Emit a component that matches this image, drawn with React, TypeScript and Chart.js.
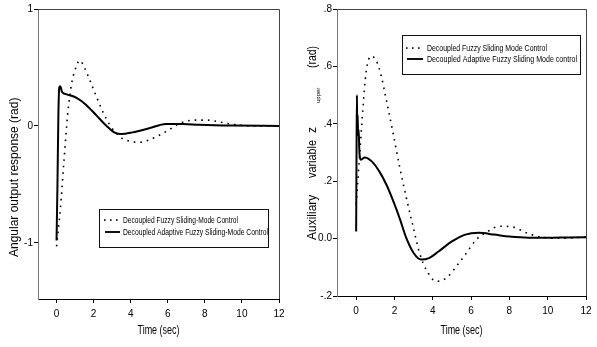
import { useEffect, useRef } from "react";
import { Chart, registerables } from "chart.js";

Chart.register(...registerables);

// ---------- data ----------
const xTickValues = [0, 2, 4, 6, 8, 10, 12];

const leftYTickValues = [1, 0, -1];
const leftYTickLabels = ["1", "0", "-1"];
const rightYTickValues = [0.8, 0.6, 0.4, 0.2, 0, -0.2];
const rightYTickLabels = [".8", ".6", ".4", ".2", "0.0", "-.2"];

const leftLegend = [
  "Decoupled Fuzzy Sliding-Mode Control",
  "Decoupled Adaptive Fuzzy Sliding-Mode Control",
];
const rightLegend = [
  "Decoupled Fuzzy Sliding Mode Control",
  "Decoupled Adaptive Fuzzy Sliding Mode control",
];

// Left panel: angular output response (rad)
const leftFuzzyT = [0, 0.2, 0.4, 0.6, 0.8, 1.0, 1.26, 1.53, 1.8, 2.15, 2.5, 2.87, 3.4, 3.95, 4.5, 5.0, 5.57, 6.1, 6.65, 7.37, 8.1, 8.8, 9.5, 10.6, 12];
const leftFuzzyY = [-1.03, -0.72, -0.3, 0.1, 0.35, 0.48, 0.56, 0.49, 0.39, 0.25, 0.12, 0.01, -0.09, -0.13, -0.14, -0.12, -0.077, -0.03, 0.023, 0.049, 0.05, 0.034, 0.014, 0, 0];
const leftAdaptT = [0, 0.05, 0.1, 0.15, 0.2, 0.3, 0.55, 1.08, 1.6, 2.15, 2.7, 3.14, 3.5, 4.1, 5.0, 5.9, 6.8, 7.7, 9.5, 12];
const leftAdaptY = [-0.98, -0.5, 0.1, 0.33, 0.34, 0.29, 0.27, 0.24, 0.18, 0.09, 0.0, -0.057, -0.07, -0.055, -0.02, 0.017, 0.017, 0.01, 0.003, 0];

// Right panel: auxiliary variable z_upper (rad)
const rightFuzzyT = [0, 0.17, 0.35, 0.52, 0.78, 1.05, 1.31, 1.57, 1.92, 2.27, 2.6, 2.97, 3.31, 3.66, 4.19, 4.71, 5.23, 5.76, 6.28, 6.8, 7.5, 8.2, 8.9, 9.6, 10.8, 12];
const rightFuzzyY = [0.12, 0.28, 0.45, 0.58, 0.636, 0.62, 0.566, 0.485, 0.37, 0.25, 0.148, 0.043, -0.05, -0.108, -0.149, -0.137, -0.097, -0.05, -0.003, 0.022, 0.043, 0.04, 0.02, 0.006, 0.001, 0.006];
const rightAdaptT = [0, 0.02, 0.04, 0.06, 0.08, 0.1, 0.13, 0.17, 0.25, 0.45, 0.8, 1.2, 1.6, 2.0, 2.3, 2.6, 3.0, 3.4, 3.8, 4.3, 5.0, 5.7, 6.4, 7.2, 8.0, 9.0, 10, 11, 12];
const rightAdaptY = [0.025, 0.3, 0.5, 0.37, 0.43, 0.36, 0.38, 0.3, 0.275, 0.283, 0.27, 0.235, 0.185, 0.12, 0.065, 0.005, -0.05, -0.073, -0.068, -0.045, -0.01, 0.014, 0.02, 0.014, 0.007, 0.003, 0.003, 0.004, 0.005];

// ---------- styling ----------
const NARROW = "'Liberation Sans Narrow', 'Arial Narrow', 'Liberation Sans', Arial, sans-serif";
const SANS = "'Liberation Sans', Arial, sans-serif";

const zip = (t: number[], y: number[]) => t.map((x, i) => ({ x, y: y[i] }));

type TitlePart = { text: string; x: number; y: number; size: number; maxW?: number };
type Deco = {
  xTitleY: number;
  yTitle: TitlePart[];
  legend: { x: number; y: number; w: number; h: number; rows: number[]; sx0: number; sx1: number; tx: number; tw: number[]; labels: string[] };
};

const decoPlugin = (c: Deco) => ({
  id: "deco",
  afterDraw(chart: any) {
    const ctx: CanvasRenderingContext2D = chart.ctx;
    const a = chart.chartArea;
    ctx.save();
    // frame: top & right edges
    ctx.strokeStyle = "#444";
    ctx.lineWidth = 1;
    ctx.beginPath();
    ctx.moveTo(a.left, Math.round(a.top) + 0.5);
    ctx.lineTo(Math.round(a.right) + 0.5, Math.round(a.top) + 0.5);
    ctx.lineTo(Math.round(a.right) + 0.5, a.bottom);
    ctx.stroke();

    // x title
    ctx.fillStyle = "#000";
    ctx.textBaseline = "middle";
    ctx.textAlign = "center";
    ctx.font = `12px ${NARROW}`;
    ctx.fillText("Time (sec)", (a.left + a.right) / 2, c.xTitleY, 42);

    // y title (rotated)
    for (const p of c.yTitle) {
      ctx.save();
      ctx.translate(p.x, p.y);
      ctx.rotate(-Math.PI / 2);
      ctx.textAlign = "left";
      ctx.textBaseline = "middle";
      ctx.font = `${p.size}px ${SANS}`;
      if (p.maxW) ctx.fillText(p.text, 0, 0, p.maxW);
      else ctx.fillText(p.text, 0, 0);
      ctx.restore();
    }

    // legend box
    const L = c.legend;
    ctx.strokeStyle = "#111";
    ctx.lineWidth = 1;
    ctx.strokeRect(L.x + 0.5, L.y + 0.5, L.w, L.h);
    // dotted sample
    ctx.fillStyle = "#000";
    for (let x = L.sx0; x <= L.sx1 - 1; x += 6) {
      ctx.fillRect(x, L.rows[0] - 0.75, 1.6, 1.6);
    }
    // solid sample
    ctx.beginPath();
    ctx.lineWidth = 2;
    ctx.moveTo(L.sx0 + 1, L.rows[1]);
    ctx.lineTo(L.sx1 + 2, L.rows[1]);
    ctx.stroke();
    ctx.font = `9.5px ${NARROW}`;
    ctx.textAlign = "left";
    ctx.textBaseline = "middle";
    ctx.fillText(L.labels[0], L.tx, L.rows[0], L.tw[0]);
    ctx.fillText(L.labels[1], L.tx, L.rows[1], L.tw[1]);
    ctx.restore();
  },
});

function makeChart(
  canvas: HTMLCanvasElement,
  o: {
    fuzzy: { x: number; y: number }[];
    adapt: { x: number; y: number }[];
    labels: string[];
    yMin: number;
    yMax: number;
    yTicks: number[];
    yLabels: string[];
    yWidth: number;
    xHeight: number;
    padRight: number;
    deco: Deco;
  }
) {
  return new Chart(canvas, {
    type: "line",
    data: {
      datasets: [
        {
          label: o.labels[0],
          data: o.fuzzy,
          borderColor: "#000",
          borderWidth: 1.6,
          borderDash: [1.6, 5],
          pointRadius: 0,
          fill: false,
          cubicInterpolationMode: "monotone",
        },
        {
          label: o.labels[1],
          data: o.adapt,
          borderColor: "#000",
          borderWidth: 2,
          pointRadius: 0,
          fill: false,
          cubicInterpolationMode: "monotone",
        },
      ],
    },
    options: {
      responsive: false,
      animation: false,
      devicePixelRatio: 1,
      layout: { padding: { top: 9, right: o.padRight, left: 0, bottom: 0 } },
      plugins: { legend: { display: false }, tooltip: { enabled: false } },
      scales: {
        x: {
          type: "linear",
          min: -1,
          max: 12,
          afterBuildTicks: (s: any) => {
            s.ticks = xTickValues.map((v) => ({ value: v }));
          },
          afterFit: (s: any) => {
            s.height = o.xHeight;
          },
          ticks: {
            autoSkip: false,
            maxRotation: 0,
            padding: 5,
            color: "#000",
            font: { family: NARROW, size: 10 },
            callback: (v: any) => String(v),
          },
          grid: { drawOnChartArea: false, drawTicks: true, tickLength: 4, color: "#000" },
          border: { display: true, color: "#000", width: 1 },
        },
        y: {
          type: "linear",
          min: o.yMin,
          max: o.yMax,
          afterBuildTicks: (s: any) => {
            s.ticks = o.yTicks.map((v) => ({ value: v }));
          },
          afterFit: (s: any) => {
            s.width = o.yWidth;
          },
          ticks: {
            autoSkip: false,
            padding: 1,
            color: "#000",
            font: { family: NARROW, size: 10 },
            callback: (_v: any, i: number) => o.yLabels[i],
          },
          grid: { drawOnChartArea: false, drawTicks: true, tickLength: 4, color: "#000" },
          border: { display: true, color: "#777", width: 1 },
        },
      },
    },
    plugins: [decoPlugin(o.deco) as any],
  });
}

export default function App() {
  const leftRef = useRef<HTMLCanvasElement>(null);
  const rightRef = useRef<HTMLCanvasElement>(null);

  useEffect(() => {
    const RX = 297;
    const c1 = makeChart(leftRef.current!, {
      fuzzy: zip(leftFuzzyT, leftFuzzyY),
      adapt: zip(leftAdaptT, leftAdaptY),
      labels: leftLegend,
      yMin: -1.48,
      yMax: 1,
      yTicks: leftYTickValues,
      yLabels: leftYTickLabels,
      yWidth: 38,
      xHeight: 48,
      padRight: 18,
      deco: {
        xTitleY: 331,
        yTitle: [{ text: "Angular output response (rad)", x: 15, y: 257, size: 12, maxW: 177 }],
        legend: {
          x: 99, y: 209, w: 169, h: 38,
          rows: [220, 232],
          sx0: 104, sx1: 118, tx: 123, tw: [115, 145],
          labels: leftLegend,
        },
      },
    });
    const c2 = makeChart(rightRef.current!, {
      fuzzy: zip(rightFuzzyT, rightFuzzyY),
      adapt: zip(rightAdaptT, rightAdaptY),
      labels: rightLegend,
      yMin: -0.2,
      yMax: 0.8,
      yTicks: rightYTickValues,
      yLabels: rightYTickLabels,
      yWidth: 40,
      xHeight: 51,
      padRight: 11,
      deco: {
        xTitleY: 331,
        yTitle: [
          { text: "Auxiliary", x: 313 - RX, y: 240, size: 12, maxW: 55 },
          { text: "variable", x: 313 - RX, y: 178, size: 12, maxW: 38 },
          { text: "z", x: 313 - RX, y: 133, size: 12 },
          { text: "upper", x: 318 - RX, y: 103, size: 6 },
          { text: "(rad)", x: 313 - RX, y: 68, size: 12, maxW: 22 },
        ],
        legend: {
          x: 402 - RX, y: 35, w: 178, h: 39,
          rows: [48, 59],
          sx0: 406 - RX, sx1: 421 - RX, tx: 427 - RX, tw: [120, 150],
          labels: rightLegend,
        },
      },
    });
    return () => {
      c1.destroy();
      c2.destroy();
    };
  }, []);

  return (
    <div style={{ position: "absolute", left: 0, top: 0, width: 597, height: 347, background: "#fff" }}>
      <canvas ref={leftRef} width={297} height={347} style={{ position: "absolute", left: 0, top: 0 }} />
      <canvas ref={rightRef} width={300} height={347} style={{ position: "absolute", left: 297, top: 0 }} />
    </div>
  );
}
